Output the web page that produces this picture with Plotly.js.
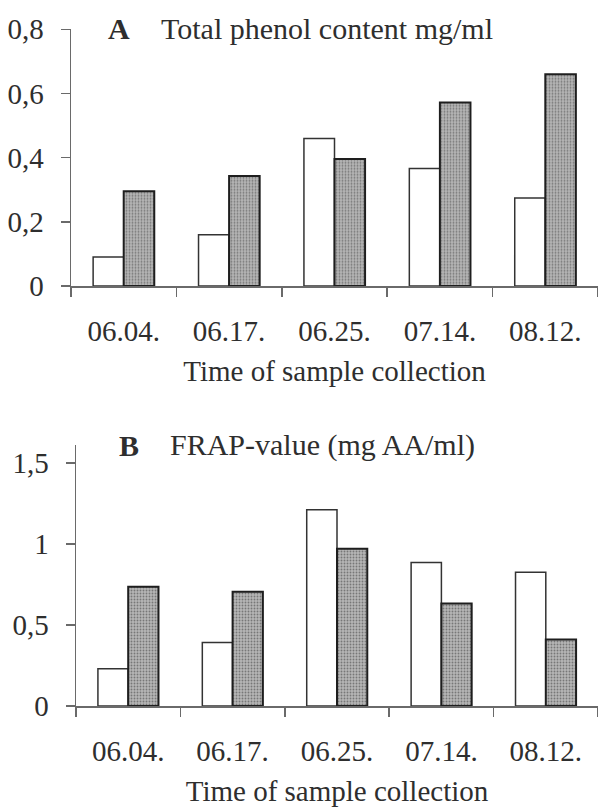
<!DOCTYPE html>
<html>
<head>
<meta charset="utf-8">
<script src="https://cdn.plot.ly/plotly-3.0.1.min.js"></script>
<style>
  html, body { margin: 0; padding: 0; background: #ffffff; }
  #chart { width: 598px; height: 807px; }
</style>
</head>
<body>
<div id="chart"></div>
<script>
// ---- data ----
const dates = ["06.04.", "06.17.", "06.25.", "07.14.", "08.12."];
const phenolWhite = [0.09, 0.16, 0.46, 0.366, 0.274];
const phenolGray  = [0.295, 0.343, 0.396, 0.572, 0.66];
const frapWhite   = [0.23, 0.392, 1.21, 0.885, 0.825];
const frapGray    = [0.736, 0.705, 0.97, 0.632, 0.41];
const titleA = "Total phenol content mg/ml";
const titleB = "FRAP-value (mg AA/ml)";
const xTitle = "Time of sample collection";

// ---- styles ----
const FONT = "Liberation Serif, Times New Roman, serif";
const TXT = "#2e2e2e";
const AX = "#6a6a6a";
const W = 598, H = 807;

const whiteMarker = { color: "#ffffff", line: { color: "#333333", width: 1.5 } };
const grayMarker = {
  color: "#a6a6a6",
  line: { color: "#1e1e1e", width: 2 },
  pattern: { shape: ".", size: 3, solidity: 0.3, fgcolor: "#777777", bgcolor: "#b6b6b6", fillmode: "replace" }
};

const traces = [
  { type: "bar", x: dates, y: phenolWhite, xaxis: "x", yaxis: "y", marker: whiteMarker, showlegend: false, hoverinfo: "skip" },
  { type: "bar", x: dates, y: phenolGray,  xaxis: "x", yaxis: "y", marker: grayMarker,  showlegend: false, hoverinfo: "skip" },
  { type: "bar", x: dates, y: frapWhite,   xaxis: "x2", yaxis: "y2", marker: whiteMarker, showlegend: false, hoverinfo: "skip" },
  { type: "bar", x: dates, y: frapGray,    xaxis: "x2", yaxis: "y2", marker: grayMarker,  showlegend: false, hoverinfo: "skip" }
];

function px2x(p) { return p / W; }
function px2y(p) { return (H - p) / H; }

const FS = 29;
const tickFont = { family: FONT, size: FS, color: TXT };

function xAxis(left, anchor) {
  return {
    domain: [px2x(left), 1],
    anchor: anchor,
    type: "category",
    showline: true, linecolor: AX, linewidth: 1.5,
    ticks: "outside", tickson: "boundaries", ticklen: 9, tickcolor: AX, tickwidth: 1.5,
    showgrid: false, zeroline: false,
    tickfont: tickFont,
    ticklabelstandoff: 19,
    title: { text: xTitle, font: { family: FONT, size: FS, color: TXT }, standoff: 14 },
    automargin: false,
    fixedrange: true
  };
}
function yAxis(top, bottom, range, dtick, anchor) {
  return {
    domain: [px2y(bottom), px2y(top)],
    anchor: anchor,
    range: range,
    dtick: dtick, tick0: 0,
    showline: true, linecolor: AX, linewidth: 1.5,
    ticks: "outside", ticklen: 9, tickcolor: AX, tickwidth: 1.5,
    showgrid: false, zeroline: false,
    tickfont: tickFont,
    ticklabelstandoff: 11,
    automargin: false,
    fixedrange: true
  };
}

const layout = {
  width: W, height: H,
  margin: { l: 0, r: 0, t: 0, b: 0, pad: 0 },
  paper_bgcolor: "#ffffff", plot_bgcolor: "#ffffff",
  separators: ", ",
  barmode: "group",
  bargap: 0.42, bargroupgap: 0,
  font: { family: FONT, color: TXT },
  xaxis: xAxis(71, "y"),
  yaxis: yAxis(29.3, 286, [0, 0.8], 0.2, "x"),
  xaxis2: xAxis(76, "y2"),
  yaxis2: yAxis(445, 706, [0, 1.61], 0.5, "x2"),
  annotations: [
    { xref: "paper", yref: "paper", x: px2x(106), y: px2y(29), xanchor: "left", yanchor: "middle",
      text: "<b>A</b>", showarrow: false, font: { family: FONT, size: 30, color: TXT } },
    { xref: "paper", yref: "paper", x: px2x(159), y: px2y(29), xanchor: "left", yanchor: "middle",
      text: titleA, showarrow: false, font: { family: FONT, size: 30, color: TXT } },
    { xref: "paper", yref: "paper", x: px2x(117), y: px2y(445), xanchor: "left", yanchor: "middle",
      text: "<b>B</b>", showarrow: false, font: { family: FONT, size: 30, color: TXT } },
    { xref: "paper", yref: "paper", x: px2x(168), y: px2y(445), xanchor: "left", yanchor: "middle",
      text: titleB, showarrow: false, font: { family: FONT, size: 30, color: TXT } }
  ]
};

Plotly.newPlot("chart", traces, layout, { staticPlot: true, displayModeBar: false });
</script>
</body>
</html>
